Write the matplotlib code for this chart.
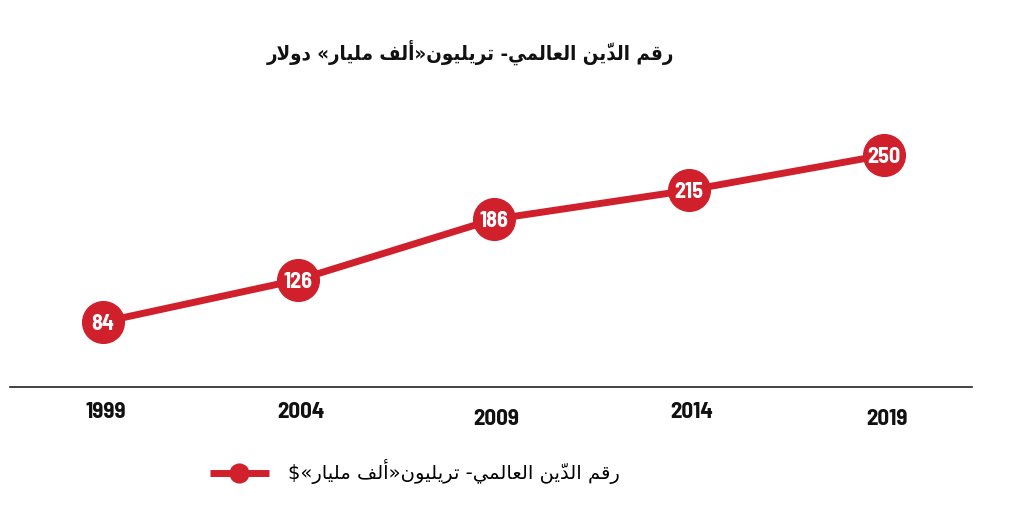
import matplotlib
matplotlib.use("Agg")
import matplotlib.pyplot as plt

years = [1999, 2004, 2009, 2014, 2019]
debt = [84, 126, 186, 215, 250]
title_text = "رقم الدّين العالمي- تريليون«ألف مليار» دولار"
legend_text = "رقم الدّين العالمي- تريليون«ألف مليار»$"

# small extra drop for some year labels (points), as in the original
year_label_drop = [0, 0, 5, 0, 5]

RED = "#d0202c"
NUM_FONT = "Barlow Semi Condensed"

# --- minimal Arabic shaping (presentation forms + visual order) ---
FORMS = {
    'ا': ('\uFE8D', '\uFE8E', None, None),
    'أ': ('\uFE83', '\uFE84', None, None),
    'ت': ('\uFE95', '\uFE96', '\uFE97', '\uFE98'),
    'د': ('\uFEA9', '\uFEAA', None, None),
    'ر': ('\uFEAD', '\uFEAE', None, None),
    'ع': ('\uFEC9', '\uFECA', '\uFECB', '\uFECC'),
    'ف': ('\uFED1', '\uFED2', '\uFED3', '\uFED4'),
    'ق': ('\uFED5', '\uFED6', '\uFED7', '\uFED8'),
    'ل': ('\uFEDD', '\uFEDE', '\uFEDF', '\uFEE0'),
    'م': ('\uFEE1', '\uFEE2', '\uFEE3', '\uFEE4'),
    'ن': ('\uFEE5', '\uFEE6', '\uFEE7', '\uFEE8'),
    'و': ('\uFEED', '\uFEEE', None, None),
    'ي': ('\uFEF1', '\uFEF2', '\uFEF3', '\uFEF4'),
}
LAM_ALEF = {'ا': ('\uFEFB', '\uFEFC'), 'أ': ('\uFEF7', '\uFEF8')}
MIRROR = {'«': '»', '»': '«'}


def shape(s):
    clusters = []
    for ch in s:
        if ch == '\u0651' and clusters:
            clusters[-1][1] += ch
        else:
            clusters.append([ch, ''])
    merged = []
    i = 0
    while i < len(clusters):
        b, m = clusters[i]
        if b == 'ل' and i + 1 < len(clusters) and clusters[i + 1][0] in LAM_ALEF:
            merged.append(['LA' + clusters[i + 1][0], m + clusters[i + 1][1]])
            i += 2
        else:
            merged.append([b, m])
            i += 1

    def arabic(b):
        return b in FORMS or b.startswith('LA')

    out = []
    for i, (b, m) in enumerate(merged):
        prev = merged[i - 1][0] if i > 0 else None
        nxt = merged[i + 1][0] if i + 1 < len(merged) else None
        jp = prev in FORMS and FORMS[prev][2] is not None
        if b.startswith('LA'):
            g = LAM_ALEF[b[2]][1 if jp else 0]
        elif b in FORMS:
            f = FORMS[b]
            jn = f[2] is not None and nxt is not None and arabic(nxt)
            if jp and jn:
                g = f[3]
            elif jp:
                g = f[1]
            elif jn:
                g = f[2]
            else:
                g = f[0]
        else:
            g = MIRROR.get(b, b)
        # mark first: it is drawn with no advance over the following glyph
        out.append(m + g)
    return ''.join(reversed(out))


fig = plt.figure(figsize=(10.24, 5.15), dpi=100)
ax = fig.add_axes([10 / 1024, 1 - 387 / 515, 962 / 1024, 287 / 515])

ax.plot(years, debt, color=RED, lw=5, marker="o", ms=30, mfc=RED, mec=RED,
        solid_capstyle="butt", label=shape(legend_text))
for x, v in zip(years, debt):
    ax.text(x, v, str(v), color="white", ha="center", va="center_baseline",
            fontsize=16, fontweight="bold", family=NUM_FONT)

ax.set_xlim(1996.62, 2021.25)
ax.set_ylim(19.4, 304.7)
for s in ["top", "right", "left"]:
    ax.spines[s].set_visible(False)
ax.spines["bottom"].set_color("#222222")
ax.spines["bottom"].set_linewidth(1.2)
ax.set_yticks([])
ax.set_xticks([])

for x, d in zip(years, year_label_drop):
    ax.annotate(str(x), (x, 19.4), xytext=(2, -18 - d), textcoords="offset points",
                ha="center", va="center", fontsize=16.5, fontweight="bold",
                family=NUM_FONT, color="#111111")

fig.text(470 / 1024, 1 - 52 / 515, shape(title_text), ha="center", va="center",
         fontsize=14.7, fontweight="bold", fontstretch="condensed",
         family="DejaVu Sans", color="#111111")

leg = ax.legend(loc="center", bbox_to_anchor=(415 / 1024, 1 - 472 / 515),
                bbox_transform=fig.transFigure, frameon=False, markerscale=0.45,
                handlelength=3.0, handletextpad=1.0,
                prop={"family": "DejaVu Sans", "size": 14})

fig.savefig("out.png", dpi=100)
